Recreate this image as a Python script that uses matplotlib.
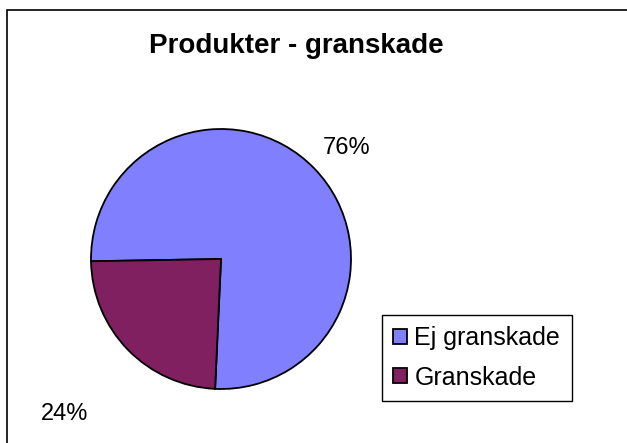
import matplotlib
matplotlib.use("Agg")
import matplotlib.pyplot as plt
from matplotlib.patches import Patch, Rectangle
import numpy as np

categories = ["Ej granskade", "Granskade"]
values = [76, 24]
pct_labels = ["76%", "24%"]
colors = ["#8080FF", "#802060"]
title = "Produkter - granskade"

plt.rcParams['font.family'] = ['Liberation Sans', 'DejaVu Sans']

W, H = 627, 443
fig = plt.figure(figsize=(W / 100, H / 100), dpi=100)

# chart frame
fig.patches.append(Rectangle((7 / W, -0.2), 1.2, 1 - 10 / H + 0.2, transform=fig.transFigure,
                             fill=False, edgecolor='black', linewidth=1.2))

cx, cy, r = 221, H - 259, 130
ax = fig.add_axes([(cx - r) / W, (cy - r) / H, 2 * r / W, 2 * r / H])
wedges, _ = ax.pie(values, colors=colors, startangle=181, counterclock=False,
                   wedgeprops=dict(edgecolor='black', linewidth=1.3))
ax.set_xlim(-1, 1)
ax.set_ylim(-1, 1)
ax.set_aspect('auto')
ax.axis('off')

dists = [1.30, 1.68]
angle_shift = [-2.0, 0.0]
for w, lab, d, s in zip(wedges, pct_labels, dists, angle_shift):
    ang = np.deg2rad((w.theta1 + w.theta2) / 2 + s)
    ax.text(d * np.cos(ang), d * np.sin(ang), lab, ha='center', va='center_baseline',
            fontsize=17, clip_on=False)

fig.text(296 / W, 1 - 53 / H, title, ha='center', va='baseline',
         fontsize=20, fontweight='bold')

handles = [Patch(facecolor=c, edgecolor='black', linewidth=1.3) for c in colors]
leg = fig.legend(handles, categories, loc='upper left',
                 bbox_to_anchor=(382 / W, 1 - 315 / H), fontsize=18,
                 frameon=True, fancybox=False, framealpha=1, borderpad=0.45,
                 handlelength=0.55, handleheight=0.55, handletextpad=0.3,
                 labelspacing=0.62, borderaxespad=0)
leg.get_frame().set_edgecolor('black')
leg.get_frame().set_linewidth(1.0)

fig.savefig("out.png", dpi=100)
